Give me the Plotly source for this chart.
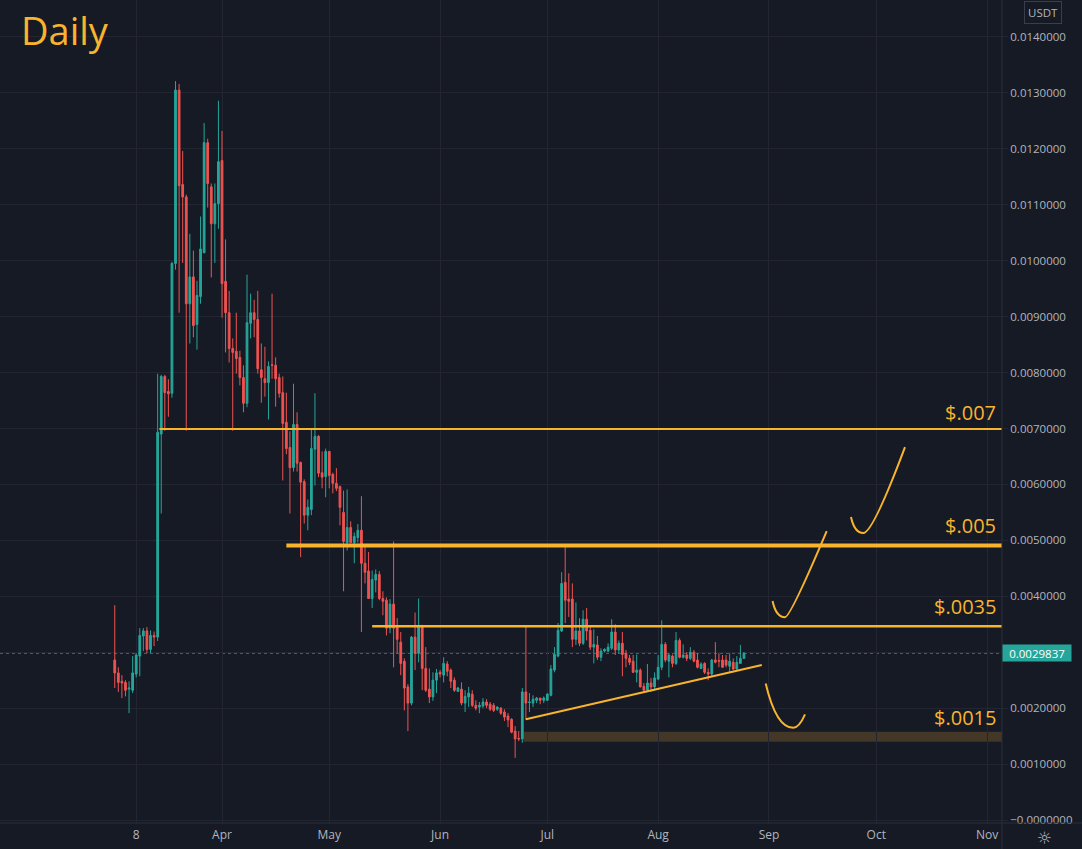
import plotly.graph_objects as go
import pandas as pd

# ---------------- data ----------------
start_date = "2021-03-02"

opens = [
    .00286, .00263, .00248, .00246, .00234, .00232, .00261, .00293, .00329, .00338,
    .00305, .00330, .00327, .00690, .00793, .00766, .00763, .00995, .01305, .01136,
    .01114, .00923, .00971, .00886, .00936, .01014, .01211, .01132, .01066, .01102,
    .01179, .00963, .00907, .00843, .00838, .00827, .00791, .00745, .00888, .00907,
    .00895, .00805, .00789, .00782, .00814, .00813, .00791, .00764, .00711, .00666,
    .00630, .00707, .00639, .00605, .00545, .00555, .00663, .00686, .00621, .00614,
    .00659, .00618, .00602, .00596, .00550, .00496, .00523, .00496, .00505, .00518,
    .00459, .00445, .00396, .00429, .00439, .00396, .00393, .00343, .00386, .00345,
    .00318, .00284, .00238, .00209, .00327, .00298, .00348, .00271, .00234, .00220,
    .00250, .00264, .00259, .00279, .00268, .00250, .00230, .00234, .00209, .00220,
    .00225, .00205, .00202, .00204, .00211, .00207, .00205, .00198, .00200, .00193,
    .00186, .00180, .00159, .00146, .00145, .00229, .00210, .00209, .00214, .00218,
    .00214, .00214, .00223, .00268, .00293, .00338, .00425, .00395, .00395, .00323,
    .00338, .00316, .00359, .00339, .00309, .00313, .00291, .00302, .00302, .00307,
    .00336, .00304, .00316, .00298, .00289, .00284, .00264, .00268, .00239, .00232,
    .00245, .00238, .00252, .00273, .00314, .00284, .00293, .00280, .00321, .00291,
    .00295, .00289, .00300, .00286, .00271, .00280, .00264, .00261, .00286, .00285,
    .00286, .00286, .00275, .00282, .00270, .00280, .00289,
]
highs = [
    .00384, .00273, .00259, .00250, .00248, .00293, .00298, .00343, .00343, .00345,
    .00339, .00337, .00798, .00796, .00796, .00788, .00998, .01321, .01316, .01196,
    .01118, .01048, .01018, .00964, .01079, .01246, .01218, .01138, .01138, .01286,
    .01232, .01038, .00946, .00861, .00907, .00839, .00813, .00975, .00941, .00930,
    .00946, .00852, .00846, .00820, .00941, .00827, .00798, .00793, .00764, .00695,
    .00780, .00729, .00641, .00609, .00573, .00698, .00763, .00688, .00659, .00664,
    .00659, .00621, .00629, .00598, .00589, .00591, .00534, .00514, .00529, .00579,
    .00488, .00479, .00446, .00448, .00445, .00409, .00398, .00395, .00498, .00361,
    .00336, .00289, .00243, .00329, .00371, .00396, .00348, .00309, .00271, .00264,
    .00270, .00268, .00291, .00284, .00271, .00255, .00238, .00246, .00232, .00238,
    .00232, .00214, .00211, .00218, .00216, .00211, .00209, .00203, .00202, .00198,
    .00191, .00182, .00168, .00159, .00236, .00345, .00227, .00223, .00220, .00218,
    .00221, .00227, .00277, .00309, .00352, .00443, .00488, .00441, .00423, .00389,
    .00361, .00375, .00379, .00348, .00341, .00329, .00307, .00307, .00316, .00359,
    .00350, .00321, .00336, .00304, .00295, .00295, .00296, .00271, .00245, .00279,
    .00254, .00264, .00295, .00357, .00318, .00298, .00296, .00336, .00325, .00314,
    .00300, .00309, .00304, .00298, .00282, .00282, .00271, .00288, .00318, .00298,
    .00295, .00295, .00298, .00289, .00293, .00313, .00300,
]
lows = [
    .00236, .00229, .00218, .00221, .00191, .00227, .00255, .00257, .00302, .00298,
    .00298, .00311, .00320, .00548, .00696, .00721, .00755, .00984, .00907, .00996,
    .00696, .00852, .00863, .00841, .00923, .01014, .01095, .00970, .00996, .01057,
    .00898, .00836, .00818, .00696, .00798, .00777, .00729, .00738, .00861, .00863,
    .00798, .00746, .00757, .00716, .00789, .00739, .00755, .00607, .00654, .00548,
    .00623, .00623, .00470, .00530, .00518, .00545, .00598, .00613, .00593, .00577,
    .00593, .00584, .00588, .00527, .00409, .00482, .00495, .00459, .00496, .00336,
    .00423, .00396, .00379, .00407, .00393, .00366, .00330, .00334, .00273, .00298,
    .00259, .00196, .00159, .00205, .00268, .00282, .00232, .00229, .00209, .00213,
    .00227, .00255, .00246, .00257, .00236, .00229, .00229, .00205, .00193, .00202,
    .00202, .00196, .00191, .00200, .00200, .00195, .00193, .00195, .00188, .00177,
    .00166, .00155, .00111, .00141, .00138, .00179, .00193, .00202, .00209, .00207,
    .00209, .00213, .00221, .00264, .00291, .00336, .00352, .00363, .00309, .00313,
    .00311, .00313, .00321, .00304, .00280, .00286, .00284, .00300, .00300, .00304,
    .00295, .00298, .00257, .00273, .00277, .00263, .00246, .00237, .00227, .00229,
    .00229, .00232, .00250, .00268, .00282, .00255, .00273, .00277, .00289, .00289,
    .00284, .00286, .00282, .00271, .00270, .00261, .00250, .00257, .00280, .00273,
    .00273, .00273, .00264, .00268, .00268, .00280, .00288,
]
closes = [
    .00263, .00246, .00245, .00232, .00236, .00263, .00295, .00330, .00338, .00305,
    .00330, .00327, .00693, .00793, .00764, .00762, .00995, .01305, .01134, .01114,
    .00923, .00971, .00884, .00938, .01021, .01211, .01138, .01066, .01102, .01177,
    .00959, .00907, .00843, .00836, .00825, .00791, .00745, .00889, .00907, .00895,
    .00807, .00791, .00782, .00811, .00813, .00789, .00763, .00709, .00664, .00630,
    .00707, .00638, .00604, .00545, .00559, .00664, .00686, .00620, .00613, .00659,
    .00616, .00602, .00593, .00559, .00498, .00523, .00496, .00507, .00518, .00459,
    .00443, .00396, .00430, .00439, .00396, .00391, .00343, .00386, .00343, .00323,
    .00280, .00236, .00209, .00327, .00298, .00348, .00271, .00232, .00220, .00250,
    .00263, .00261, .00280, .00266, .00248, .00232, .00236, .00209, .00221, .00227,
    .00205, .00200, .00205, .00211, .00205, .00198, .00196, .00202, .00191, .00184,
    .00179, .00157, .00145, .00145, .00229, .00209, .00211, .00216, .00218, .00214,
    .00218, .00225, .00270, .00296, .00339, .00423, .00393, .00391, .00323, .00338,
    .00316, .00359, .00338, .00309, .00314, .00291, .00302, .00305, .00309, .00336,
    .00304, .00316, .00296, .00289, .00282, .00264, .00268, .00238, .00232, .00245,
    .00238, .00254, .00273, .00314, .00286, .00295, .00280, .00321, .00291, .00295,
    .00289, .00300, .00284, .00273, .00279, .00264, .00261, .00286, .00282, .00284,
    .00273, .00277, .00284, .00270, .00282, .00289, .0029837,
]

last_price = 0.0029837
last_price_text = "0.0029837"

x_tick_vals = ["2021-03-08", "2021-04-01", "2021-05-01", "2021-06-01", "2021-07-01",
               "2021-08-01", "2021-09-01", "2021-10-01", "2021-11-01"]
x_tick_text = ["8", "Apr", "May", "Jun", "Jul", "Aug", "Sep", "Oct", "Nov"]

y_tick_vals = [0.000, 0.001, 0.002, 0.003, 0.004, 0.005, 0.006, 0.007,
               0.008, 0.009, 0.010, 0.011, 0.012, 0.013, 0.014]
y_tick_text = ["\u22120.0000000", "0.0010000", "0.0020000", "0.0030000", "0.0040000",
               "0.0050000", "0.0060000", "0.0070000", "0.0080000", "0.0090000",
               "0.0100000", "0.0110000", "0.0120000", "0.0130000", "0.0140000"]

x_range = ["2021-01-28 21:39", "2021-11-05 04:20"]
y_range = [-0.0000536, 0.0146607]

# horizontal levels: (price, start date)
level_007 = (0.00699, "2021-03-14 12:00")
level_005 = (0.00491, "2021-04-19")
level_0035 = (0.003464, "2021-05-13")
zone_0015 = (0.001398, 0.001577, "2021-06-24 09:00")
trend_line = [("2021-06-25", 0.00180), ("2021-08-30", 0.00277)]

level_labels = ["$.007", "$.005", "$.0035", "$.0015"]
level_label_prices = [0.007286, 0.005268, 0.003813, 0.00183]

# hand-drawn projection curves: start, ctrl, bottom, ctrl, end
curve_down = [("2021-08-31_02:00", 0.002441), ("2021-09-03_00:00", 0.001648),
              ("2021-09-07_19:00", 0.001648), ("2021-09-09_10:00", 0.001648),
              ("2021-09-11_02:00", 0.001888)]
curve_up1 = [("2021-09-02_00:00", 0.003916), ("2021-09-02_23:00", 0.003627),
             ("2021-09-05_11:30", 0.003627), ("2021-09-06_23:00", 0.003627),
             ("2021-09-17_03:30", 0.005166)]
curve_up2 = [("2021-09-23_22:30", 0.005416), ("2021-09-24_22:00", 0.005130),
             ("2021-09-27_09:00", 0.005130), ("2021-09-30_00:30", 0.005130),
             ("2021-10-09_01:00", 0.006666)]

# ---------------- style ----------------
BG = "#161A25"
GRID = "#232632"
AXIS = "#2B2F3B"
TXT = "#B2B5BE"
UP = "#26A69A"
DOWN = "#EF5350"
ORANGE = "#F9B42D"
FONT = "Open Sans"

dates = pd.date_range(start_date, periods=len(opens), freq="D")

fig = go.Figure()
fig.add_trace(go.Candlestick(
    x=dates, open=opens, high=highs, low=lows, close=closes,
    increasing=dict(line=dict(color=UP, width=1), fillcolor=UP),
    decreasing=dict(line=dict(color=DOWN, width=1), fillcolor=DOWN),
    whiskerwidth=0, hoverinfo="skip", showlegend=False,
))

shapes = []
# last price dotted line
shapes.append(dict(type="line", xref="x", yref="y", x0=x_range[0], x1=x_range[1],
                   y0=last_price, y1=last_price, line=dict(color=UP, width=1, dash="dot"),
                   layer="below"))
# zone
shapes.append(dict(type="rect", xref="x", yref="y", x0=zone_0015[2], x1=x_range[1],
                   y0=zone_0015[0], y1=zone_0015[1], fillcolor="#433727",
                   line=dict(width=0), layer="below"))
# levels
for (p, s), w in [(level_007, 2), (level_005, 4), (level_0035, 2.5)]:
    shapes.append(dict(type="line", xref="x", yref="y", x0=s, x1=x_range[1], y0=p, y1=p,
                       line=dict(color=ORANGE, width=w)))
# trend line
shapes.append(dict(type="line", xref="x", yref="y",
                   x0=trend_line[0][0], y0=trend_line[0][1],
                   x1=trend_line[1][0], y1=trend_line[1][1],
                   line=dict(color=ORANGE, width=2)))


def curve_path(pts):
    (a, b, c, d, e) = pts
    return (f"M {a[0]},{a[1]} Q {b[0]},{b[1]} {c[0]},{c[1]} "
            f"Q {d[0]},{d[1]} {e[0]},{e[1]}")


for pts in (curve_down, curve_up1, curve_up2):
    shapes.append(dict(type="path", xref="x", yref="y", path=curve_path(pts),
                       line=dict(color=ORANGE, width=2)))

# axis separators extending into the margins
shapes.append(dict(type="line", xref="paper", yref="paper", x0=0, x1=1082 / 1002,
                   y0=0, y1=0, line=dict(color=AXIS, width=1)))
shapes.append(dict(type="line", xref="paper", yref="paper", x0=1, x1=1,
                   y0=-26 / 823, y1=1, line=dict(color=AXIS, width=1)))

annotations = []
annotations.append(dict(text="Daily", xref="paper", yref="paper", x=19 / 1002, y=1 - 30 / 823,
                        xanchor="left", yanchor="middle", showarrow=False,
                        font=dict(family=FONT, size=38, color=ORANGE)))
for lbl, p in zip(level_labels, level_label_prices):
    annotations.append(dict(text=lbl, xref="paper", yref="y", x=0.996, y=p,
                            xanchor="right", yanchor="middle", showarrow=False,
                            font=dict(family=FONT, size=20, color=ORANGE)))
annotations.append(dict(text=last_price_text, xref="paper", yref="y", x=1.0, y=last_price,
                        xanchor="left", yanchor="middle", showarrow=False,
                        bgcolor=UP, borderpad=2, width=64, height=12,
                        font=dict(family=FONT, size=11.5, color="#FFFFFF")))
annotations.append(dict(text="USDT", xref="paper", yref="paper", x=1043 / 1002, y=1 - 13 / 823,
                        xanchor="center", yanchor="middle", showarrow=False,
                        bordercolor="#3A3E4A", borderwidth=1, borderpad=3,
                        font=dict(family=FONT, size=11.5, color=TXT)))
annotations.append(dict(text="\u263C", xref="paper", yref="paper", x=1044 / 1002, y=-15 / 823,
                        xanchor="center", yanchor="middle", showarrow=False,
                        font=dict(family="DejaVu Sans", size=17, color=TXT)))

fig.update_layout(
    width=1082, height=849,
    margin=dict(l=0, r=80, t=0, b=26),
    paper_bgcolor=BG, plot_bgcolor=BG,
    font=dict(family=FONT, color=TXT, size=12),
    shapes=shapes, annotations=annotations,
    showlegend=False, hovermode=False,
    xaxis=dict(type="date", range=x_range, rangeslider=dict(visible=False),
               tickvals=x_tick_vals, ticktext=x_tick_text,
               showgrid=True, gridcolor=GRID, gridwidth=1, zeroline=False,
               showline=False, ticks="", ticklabelstandoff=3,
               tickfont=dict(family=FONT, size=12, color=TXT), fixedrange=True),
    yaxis=dict(side="right", range=y_range, tickvals=y_tick_vals, ticktext=y_tick_text,
               showgrid=True, gridcolor=GRID, gridwidth=1, zeroline=False,
               showline=False, ticks="outside", ticklen=5, tickcolor=GRID,
               tickfont=dict(family=FONT, size=11.5, color=TXT), fixedrange=True),
)

fig.write_html("out.html")
